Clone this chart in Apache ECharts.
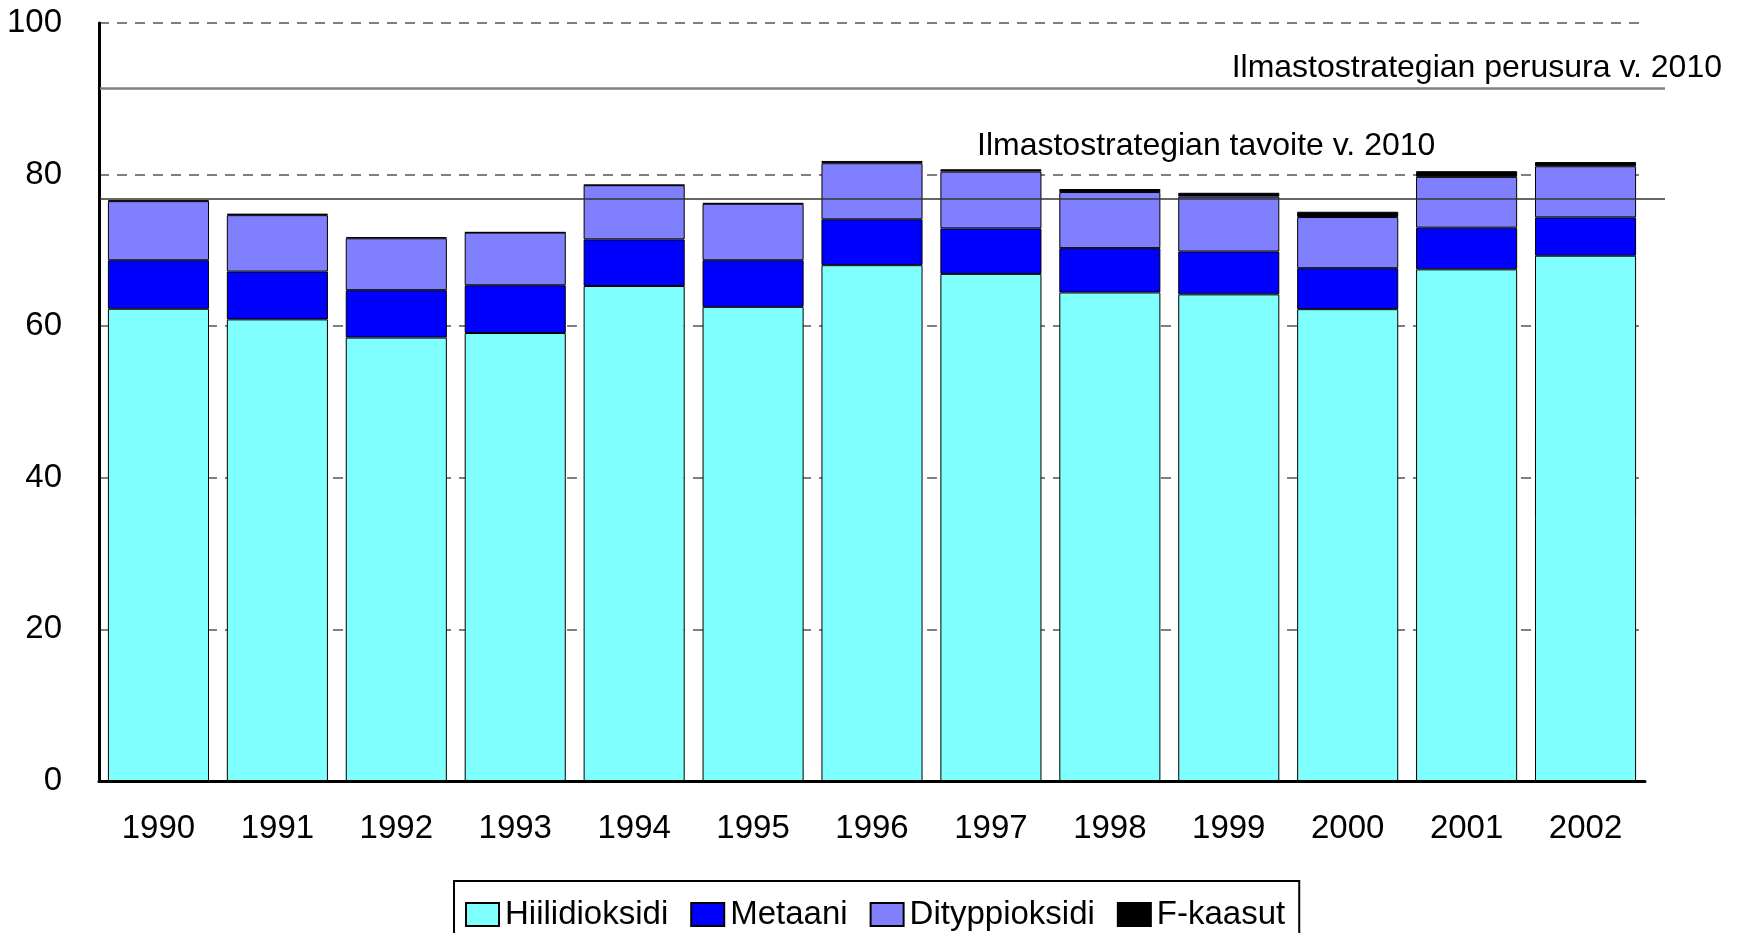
<!DOCTYPE html>
<html>
<head>
<meta charset="utf-8">
<script src="https://cdn.jsdelivr.net/npm/echarts@6/dist/echarts.min.js"></script>
<style>
  html, body { margin: 0; padding: 0; background: #fff; }
  #chart { width: 1739px; height: 933px; }
</style>
</head>
<body>
<div id="chart"></div>
<script>
// vuodet
const years = ['1990', '1991', '1992', '1993', '1994', '1995', '1996', '1997', '1998', '1999', '2000', '2001', '2002'];
// päästöt kaasuittain
const hiilidioksidi = [62.3, 60.9, 58.5, 59.1, 65.3, 62.55, 68.05, 66.9, 64.45, 64.2, 62.25, 67.5, 69.3];
const metaani = [6.4, 6.3, 6.25, 6.3, 6.15, 6.15, 6.05, 6.0, 5.85, 5.65, 5.4, 5.5, 5.05];
const dityppioksidi = [7.8, 7.45, 6.85, 6.95, 7.15, 7.45, 7.4, 7.5, 7.4, 7.25, 6.75, 6.7, 6.75];
const fKaasut = [0.1, 0.2, 0.15, 0.05, 0.05, 0.1, 0.3, 0.3, 0.4, 0.5, 0.7, 0.75, 0.55];
// viivat
const perusura = 91.4;
const tavoite = 76.8;
const yTicks = [0, 20, 40, 60, 80, 100];

const plain = "'Liberation Sans', Arial, sans-serif";

const chart = echarts.init(document.getElementById('chart'));

function barSeries(name, data, color) {
  return {
    name: name,
    type: 'bar',
    stack: 'total',
    data: data,
    barCategoryGap: '15%',
    itemStyle: { color: color, borderColor: '#000', borderWidth: 1 },
    animation: false
  };
}

const option = {
  backgroundColor: '#fff',
  animation: false,
  grid: [
    { left: 99, right: 94, top: 23, bottom: 152 },
    { left: 100, right: 74, top: 23, bottom: 152 } // viivoja varten, vähän leveämpi
  ],
  legend: {
    left: 454,
    top: 881,
    padding: [17, 14, 40, 11],
    itemGap: 22,
    itemWidth: 33,
    itemHeight: 23,
    borderColor: '#000',
    borderWidth: 2,
    icon: 'rect',
    textStyle: { fontFamily: plain, fontSize: 33, color: '#000', padding: [0, 0, 0, 1] },
    data: ['Hiilidioksidi', 'Metaani', 'Dityppioksidi', 'F-kaasut']
  },
  xAxis: [
    {
      type: 'category',
      data: years,
      gridIndex: 0,
      axisLine: { lineStyle: { color: '#000', width: 3 } },
      axisTick: { show: false },
      axisLabel: { margin: 31, color: '#000', fontFamily: plain, fontSize: 33 }
    },
    { type: 'value', gridIndex: 1, min: 0, max: 1, show: false }
  ],
  yAxis: [
    {
      type: 'value',
      gridIndex: 0,
      min: yTicks[0],
      max: yTicks[yTicks.length - 1],
      interval: 20,
      axisLine: { show: true, lineStyle: { color: '#000', width: 3 } },
      axisTick: { show: false },
      axisLabel: { margin: 37, color: '#000', fontFamily: plain, fontSize: 33 },
      splitLine: { show: true, lineStyle: { color: '#555', width: 1.5, type: [10, 8] } }
    },
    { type: 'value', gridIndex: 1, min: 0, max: 100, show: false }
  ],
  series: [
    barSeries('Hiilidioksidi', hiilidioksidi, '#80FFFF'),
    barSeries('Metaani', metaani, '#0000FF'),
    barSeries('Dityppioksidi', dityppioksidi, '#8080FF'),
    barSeries('F-kaasut', fKaasut, '#000000'),
    {
      name: 'viivat',
      type: 'line',
      xAxisIndex: 1,
      yAxisIndex: 1,
      data: [[0, 0]],
      showSymbol: false,
      lineStyle: { width: 0 },
      z: 10,
      markLine: {
        silent: true,
        symbol: ['none', 'none'],
        label: { show: false },
        data: [
          { yAxis: perusura, lineStyle: { color: '#808080', width: 2.5, type: 'solid' } },
          { yAxis: tavoite, lineStyle: { color: '#333', width: 1.5, type: 'solid' } }
        ]
      }
    }
  ],
  graphic: [
    {
      type: 'text',
      right: 17,
      top: 52,
      style: { text: 'Ilmastostrategian perusura v. 2010', font: '32px ' + plain, fill: '#000' }
    },
    {
      type: 'text',
      left: 977,
      top: 130,
      style: { text: 'Ilmastostrategian tavoite v. 2010', font: '32px ' + plain, fill: '#000' }
    }
  ]
};

chart.setOption(option);
</script>
</body>
</html>
